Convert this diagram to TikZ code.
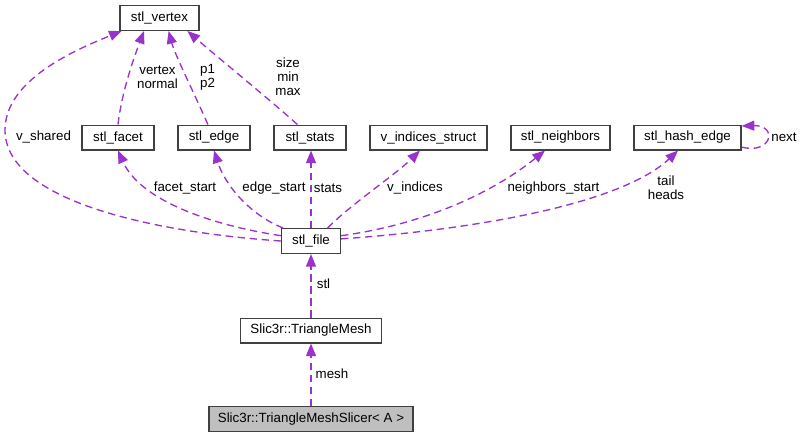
\documentclass[tikz,border=0pt]{standalone}
\usepackage{fontspec}
\setmainfont{Liberation Sans}
\usetikzlibrary{arrows.meta}
\definecolor{edgec}{HTML}{9A32CD}
\definecolor{boxc}{HTML}{404040}
\definecolor{greyfill}{HTML}{BFBFBF}
\begin{document}
\begin{tikzpicture}[x=0.75pt,y=-0.75pt,
  cls/.style={draw=boxc,line width=1pt,fill=white,inner sep=0pt,minimum height=18.5pt,font=\fontsize{10}{12}\selectfont},
  rel/.style={draw=edgec,line width=1pt,dash pattern=on 5.5pt off 3.5pt,-{Triangle[length=9.5pt,width=7.5pt]}},
  lbl/.style={inner sep=0pt,align=center,font=\fontsize{10}{10.5}\selectfont}]
\useasboundingbox (0,0) rectangle (800,439);
% nodes
\node[cls,minimum width=59.25pt] (vertex) at (159.5,18) {stl\_vertex};
\node[cls,minimum width=54pt] (facet) at (118,137.5) {stl\_facet};
\node[cls,minimum width=54pt] (edge) at (214,137.5) {stl\_edge};
\node[cls,minimum width=54pt] (stats) at (310,137.5) {stl\_stats};
\node[cls,minimum width=87.75pt] (vind) at (428.5,137.5) {v\_indices\_struct};
\node[cls,minimum width=74.25pt] (neigh) at (560.5,137.5) {stl\_neighbors};
\node[cls,minimum width=80.25pt] (hash) at (687.5,137.5) {stl\_hash\_edge};
\node[cls,minimum width=44.25pt] (file) at (311,241) {stl\_file};
\node[cls,minimum width=105.75pt] (mesh) at (311,330.5) {Slic3r::TriangleMesh};
\node[cls,minimum width=153pt,fill=greyfill] (slicer) at (311,419) {Slic3r::TriangleMeshSlicer< A >};
% edges to stl_vertex
\draw[rel] (facet.north) .. controls (122,90) and (135,55) .. (vertex.-140);
\draw[rel] (edge.115) .. controls (195,95) and (175,55) .. (vertex.-55);
\draw[rel] (stats.134) .. controls (270,100) and (215,55) .. (vertex.-25);
\draw[rel] (file.west) .. controls (150,232) and (5,200) .. (5,130) .. controls (5,80) and (75,50) .. (vertex.-161);
% edges from stl_file
\draw[rel] (file.170) .. controls (210,225) and (140,200) .. (facet.south);
\draw[rel] (file.155) .. controls (250,215) and (225,185) .. (edge.south);
\draw[rel] (file.north) -- (file.north |- stats.south);
\draw[rel] (file.38) .. controls (350,205) and (395,175) .. (vind.-123);
\draw[rel] (file.10) .. controls (420,225) and (490,195) .. (neigh.-140);
\draw[rel] (file.4) .. controls (470,230) and (620,205) .. (hash.-126);
\draw[rel] (hash.-10) .. controls (772,155) and (778,125) .. (hash.12);
\draw[rel] (mesh.north) -- (file.south);
\draw[rel] (slicer.north) -- (mesh.south);
% labels
\node[lbl] (l1) at (157.5,77) {vertex\\normal};
\node[lbl] (l2) at (207.5,77) {p1\\p2};
\node[lbl] (l3) at (288,77) {size\\min\\max};
\node[lbl] (l4) at (43.5,137) {v\_shared};
\node[lbl] (l5) at (185,188) {facet\_start};
\node[lbl] (l6) at (274,188) {edge\_start};
\node[lbl] (l7) at (328,188) {stats};
\node[lbl] (l8) at (415,188) {v\_indices};
\node[lbl] (l9) at (553.5,188) {neighbors\_start};
\node[lbl] (l10) at (666,188) {tail\\heads};
\node[lbl] (l11) at (784,137) {next};
\node[lbl] (l12) at (323.5,284) {stl};
\node[lbl] (l13) at (332,374) {mesh};
\end{tikzpicture}
\end{document}
